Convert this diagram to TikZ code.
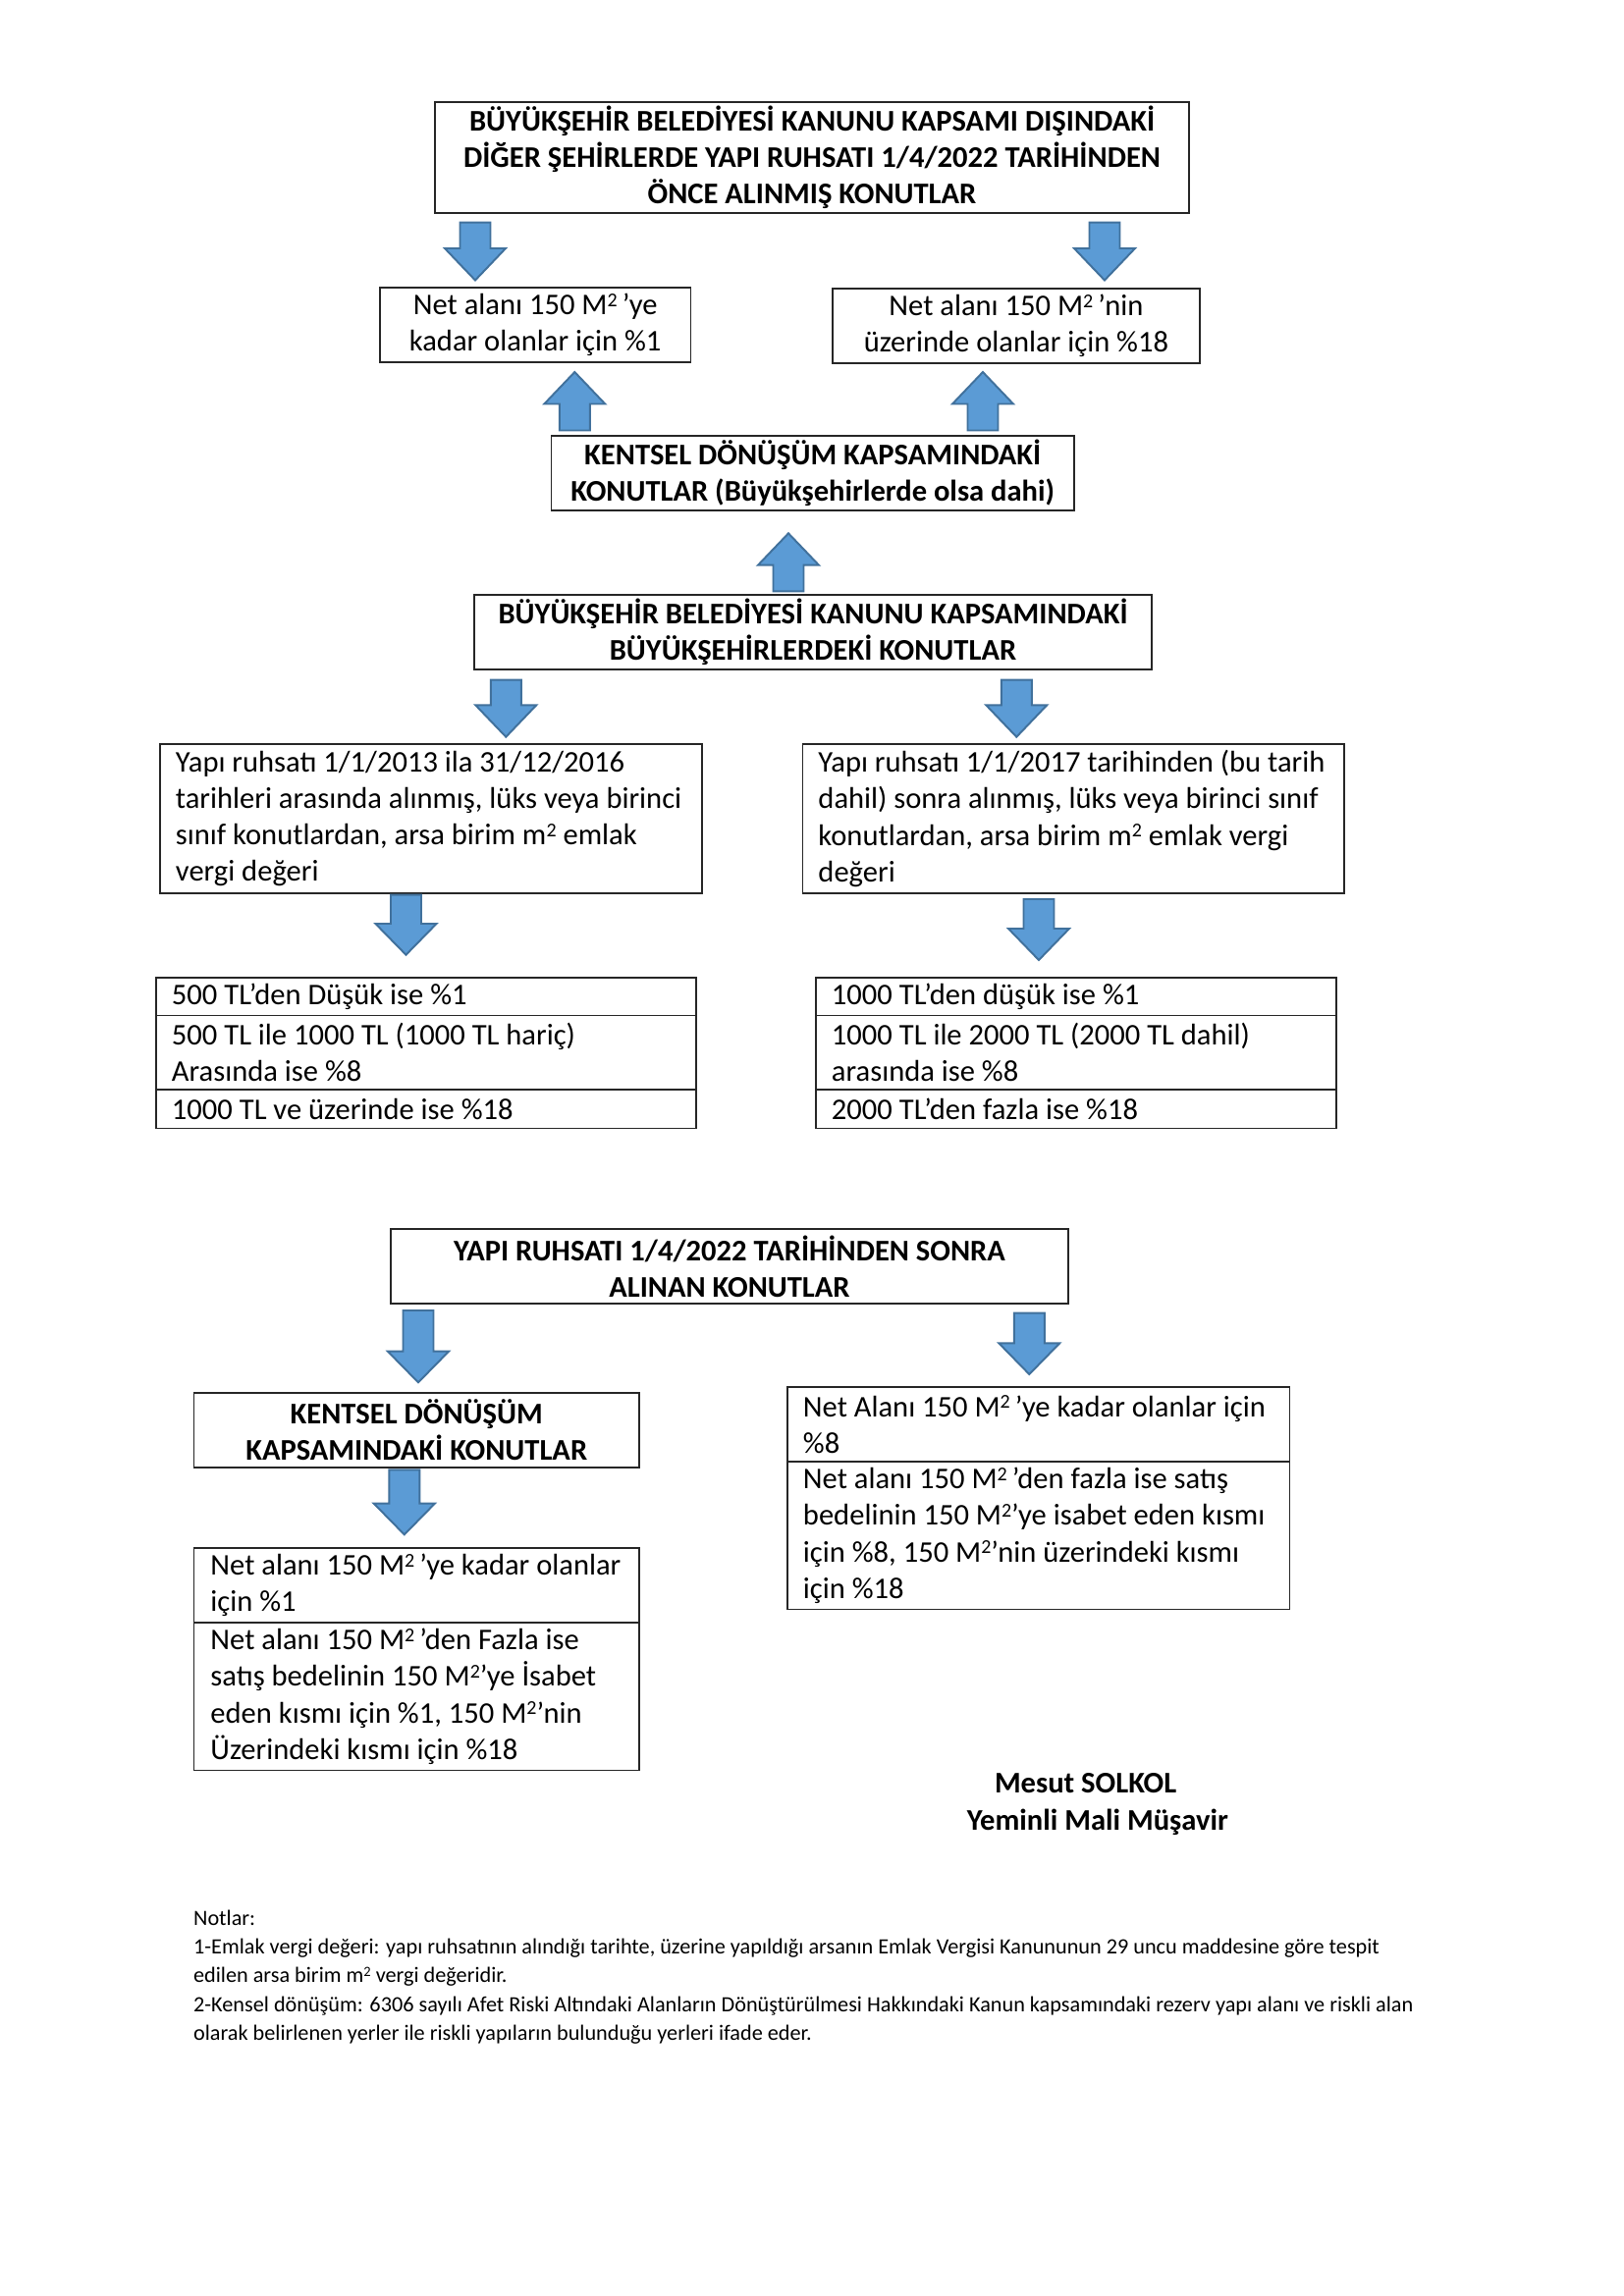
\documentclass[tikz,border=0pt]{standalone}
\usepackage{fontspec}
\setmainfont{Carlito}
\newlength\px
\setlength\px{0.3599pt}
\definecolor{arrfill}{HTML}{5B9BD5}
\definecolor{arrline}{HTML}{41719C}
\newcommand\tline[1]{\mbox{#1}}
\newcommand\suptwo[1][7.2]{\raisebox{0.28em}{\fontsize{#1}{#1}\selectfont 2}}
\newcommand\msq{M\suptwo}
\newcommand\blockarrow[4]{%
  \fill[arrfill, draw=arrline, line width=0.7pt, line join=miter]
    (#1-15.5,#2) -- (#1+15.5,#2) -- (#1+15.5,#3) -- (#1+31,#3) -- (#1,#4)
    -- (#1-31,#3) -- (#1-15.5,#3) -- cycle;}
\tikzset{
  box/.style={draw=black!85, line width=0.7pt, inner sep=0pt, anchor=north west,
    font=\fontsize{11}{13.4}\selectfont},
  hd/.style={box, align=center, font=\fontsize{11}{13.4}\selectfont\bfseries},
  ctr/.style={box, align=center},
  lft/.style={box, align=flush left, inner xsep=16\px},
}
\begin{document}
\begin{tikzpicture}[x=0.3599pt, y=-0.3599pt]
\useasboundingbox[fill=white] (0,0) rectangle (1654,2339);

% ---- section 1
\node[hd, minimum width=768\px, minimum height=113\px] (top) at (442,103)
  {BÜYÜKŞEHİR BELEDİYESİ KANUNU KAPSAMI DIŞINDAKİ\\DİĞER ŞEHİRLERDE YAPI RUHSATI 1/4/2022 TARİHİNDEN\\ÖNCE ALINMIŞ KONUTLAR};
\node[ctr, minimum width=316.5\px, minimum height=76\px] (l1) at (386,292)
  {Net alanı 150 \msq\,’ye\\kadar olanlar için \%1};
\node[ctr, minimum width=374\px, minimum height=76\px] (r1) at (847,293)
  {Net alanı 150 \msq\,’nin\\üzerinde olanlar için \%18};
\node[hd, minimum width=532.5\px, minimum height=76\px] (kent) at (560.5,443)
  {KENTSEL DÖNÜŞÜM KAPSAMINDAKİ\\KONUTLAR (Büyükşehirlerde olsa dahi)};
\node[hd, minimum width=690\px, minimum height=76\px] (bbk) at (482,605)
  {BÜYÜKŞEHİR BELEDİYESİ KANUNU KAPSAMINDAKİ\\BÜYÜKŞEHİRLERDEKİ KONUTLAR};

\blockarrow{484}{226.7}{253}{285.5}
\blockarrow{1125}{226.7}{253}{285.5}
\blockarrow{585.3}{438.5}{411.5}{379}
\blockarrow{1001}{438.5}{411.5}{379}
\blockarrow{803}{602.3}{575.7}{543.3}

% ---- section 2
\node[lft, minimum width=552\px, minimum height=152\px, text width=520\px] (y1) at (162,757)
  {\tline{Yapı ruhsatı 1/1/2013 ila 31/12/2016}\\\tline{tarihleri arasında alınmış, lüks veya birinci}\\\tline{sınıf konutlardan, arsa birim m\suptwo{} emlak}\\\tline{vergi değeri}};
\node[lft, minimum width=551.5\px, minimum height=152\px, text width=519.5\px] (y2) at (816.5,757)
  {\tline{Yapı ruhsatı 1/1/2017 tarihinden (bu tarih}\\\tline{dahil) sonra alınmış, lüks veya birinci sınıf}\\\tline{konutlardan, arsa birim m\suptwo{} emlak vergi}\\\tline{değeri}};

\blockarrow{515.3}{692.7}{718.3}{750.7}
\blockarrow{1035.3}{692.7}{718.3}{750.7}
\blockarrow{413.5}{911.7}{941}{972.7}
\blockarrow{1058}{916}{946}{978}

\node[lft, minimum width=550\px, minimum height=38.5\px, text width=518\px] (t1a) at (158,995)
  {\tline{500 TL’den Düşük ise \%1}};
\node[lft, minimum width=550\px, minimum height=75.5\px, text width=518\px] (t1b) at (158,1033.5)
  {\tline{500 TL ile 1000 TL (1000 TL hariç)}\\\tline{Arasında ise \%8}};
\node[lft, minimum width=550\px, minimum height=39.5\px, text width=518\px] (t1c) at (158,1109)
  {\tline{1000 TL ve üzerinde ise \%18}};

\node[lft, minimum width=530\px, minimum height=38.5\px, text width=498\px] (t2a) at (830,995)
  {\tline{1000 TL’den düşük ise \%1}};
\node[lft, minimum width=530\px, minimum height=75.5\px, text width=498\px] (t2b) at (830,1033.5)
  {\tline{1000 TL ile 2000 TL (2000 TL dahil)}\\\tline{arasında ise \%8}};
\node[lft, minimum width=530\px, minimum height=39.5\px, text width=498\px] (t2c) at (830,1109)
  {\tline{2000 TL’den fazla ise \%18}};

% ---- section 3
\node[hd, minimum width=690\px, minimum height=76\px] (y3) at (397,1251)
  {YAPI RUHSATI 1/4/2022 TARİHİNDEN SONRA\\ALINAN KONUTLAR};
\blockarrow{426}{1335}{1376.7}{1408.3}
\blockarrow{1048.3}{1337.7}{1368.3}{1400}
\node[hd, minimum width=453.5\px, minimum height=76\px] (kd) at (196.5,1418)
  {KENTSEL DÖNÜŞÜM\\KAPSAMINDAKİ KONUTLAR};
\blockarrow{411.8}{1497.3}{1531.7}{1563.3}

\node[lft, inner xsep=17\px, minimum width=453.5\px, minimum height=76\px, text width=419.5\px] (tla) at (196.5,1576)
  {\tline{Net alanı 150 \msq\,’ye kadar olanlar}\\\tline{için \%1}};
\node[lft, inner xsep=17\px, minimum width=453.5\px, minimum height=150.5\px, text width=419.5\px] (tlb) at (196.5,1652)
  {\tline{Net alanı 150 \msq\,’den Fazla ise}\\\tline{satış bedelinin 150 \msq’ye İsabet}\\\tline{eden kısmı için \%1, 150 \msq’nin}\\\tline{Üzerindeki kısmı için \%18}};

\node[lft, minimum width=511.5\px, minimum height=76\px, text width=479.5\px] (tra) at (801,1412)
  {\tline{Net Alanı 150 \msq\,’ye kadar olanlar için}\\\tline{\%8}};
\node[lft, minimum width=511.5\px, minimum height=150.5\px, text width=479.5\px] (trb) at (801,1488)
  {\tline{Net alanı 150 \msq\,’den fazla ise satış}\\\tline{bedelinin 150 \msq’ye isabet eden kısmı}\\\tline{için \%8, 150 \msq’nin üzerindeki kısmı}\\\tline{için \%18}};

% ---- signature
\node[font=\fontsize{11}{13.4}\selectfont\bfseries, inner sep=0pt] (sig1) at (1105.6,1816.7) {Mesut SOLKOL};
\node[font=\fontsize{11}{13.4}\selectfont\bfseries, inner sep=0pt] (sig2) at (1117.8,1856.7) {Yeminli Mali Müşavir};

% ---- notes
\node[anchor=north west, inner sep=0pt, align=flush left, font=\fontsize{8}{10.6}\selectfont] (notes) at (196.6,1945)
  {\tline{Notlar:}\\
   \tline{1-Emlak vergi değeri: yapı ruhsatının alındığı tarihte, üzerine yapıldığı arsanın Emlak Vergisi Kanununun 29 uncu maddesine göre tespit}\\
   \tline{edilen arsa birim m\suptwo[5.2] vergi değeridir.}\\
   \tline{2-Kensel dönüşüm: 6306 sayılı Afet Riski Altındaki Alanların Dönüştürülmesi Hakkındaki Kanun kapsamındaki rezerv yapı alanı ve riskli alan}\\
   \tline{olarak belirlenen yerler ile riskli yapıların bulunduğu yerleri ifade eder.}};
\end{tikzpicture}
\end{document}
